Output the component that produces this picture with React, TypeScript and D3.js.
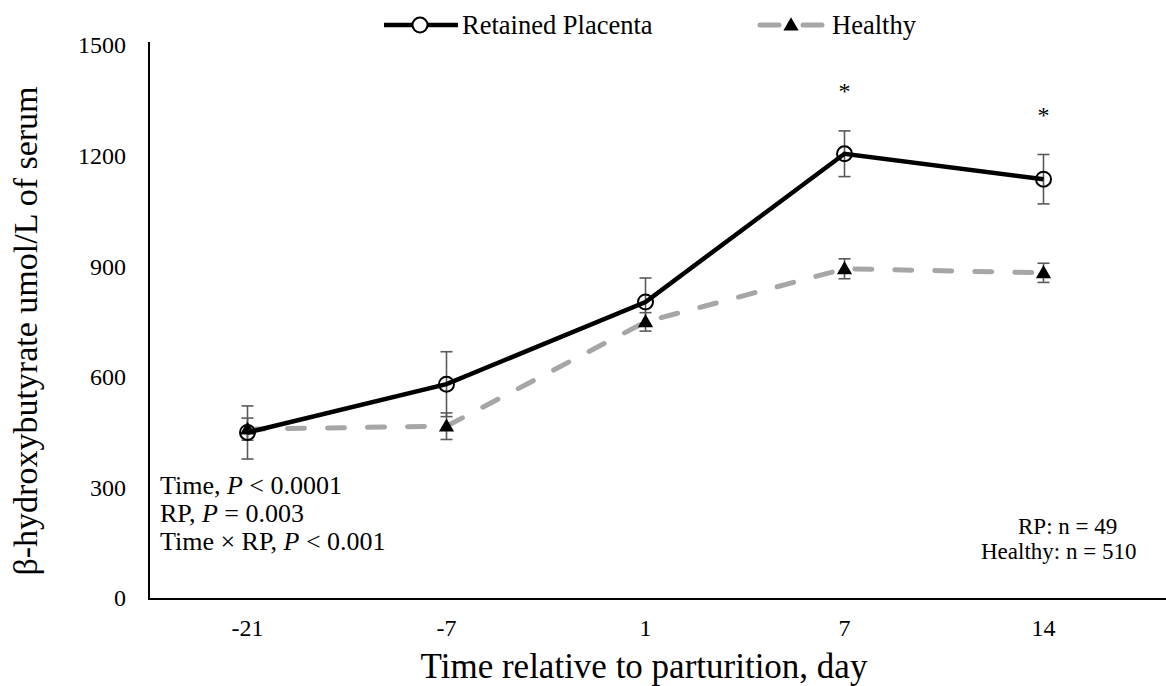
import React from "react";
import * as d3 from "d3";

// Sampling days relative to parturition
const days = ["-21", "-7", "1", "7", "14"];
// Serum BHB means and SEM, umol/L
const rpMean = [449, 580, 803, 1205, 1136];
const rpErr = [72, 88, 65, 62, 67];
const healthyMean = [458, 466, 749, 893, 882];
const healthyErr = [30, 36, 25, 27, 26];
// Days with a significant group difference
const starDays = ["7", "14"];
const starValues = [1400, 1335];
const yTicks = [0, 300, 600, 900, 1200, 1500];

const W = 1166;
const H = 686;
const FONT = "Liberation Serif, Times New Roman, DejaVu Serif, serif";

export default function App() {
  const x = d3.scaleBand<string>().domain(days).range([148, 1143]);
  const cx = (d: string) => (x(d) as number) + x.bandwidth() / 2;
  const y = d3.scaleLinear().domain([0, 1500]).range([598, 45]);

  const line = d3
    .line<number>()
    .x((_, i) => cx(days[i]))
    .y((v) => y(v));

  const tri = d3.symbol().type(d3.symbolTriangle).size(100)();

  const errBars = (means: number[], errs: number[], key: string) =>
    means.map((m, i) => {
      const px = cx(days[i]);
      const top = y(m + errs[i]);
      const bot = y(m - errs[i]);
      return (
        <g key={key + i} stroke="#5a5a5a" strokeWidth={1.6}>
          <line x1={px} x2={px} y1={top} y2={bot} />
          <line x1={px - 6} x2={px + 6} y1={top} y2={top} />
          <line x1={px - 6} x2={px + 6} y1={bot} y2={bot} />
        </g>
      );
    });

  return (
    <svg
      width={W}
      height={H}
      style={{ position: "absolute", left: 0, top: 0, background: "#fff", fontFamily: FONT }}
    >
      <rect width={W} height={H} fill="#fff" />

      {/* axes */}
      <line x1={149} x2={149} y1={42} y2={600} stroke="#000" strokeWidth={2} />
      <line x1={148} x2={1166} y1={599} y2={599} stroke="#000" strokeWidth={2} />

      {yTicks.map((t) => (
        <text key={t} x={126} y={y(t)} dy="0.35em" textAnchor="end" fontSize={24}>
          {t}
        </text>
      ))}
      {days.map((d) => (
        <text key={d} x={cx(d)} y={636} textAnchor="middle" fontSize={24}>
          {d}
        </text>
      ))}

      <text x={644} y={678} textAnchor="middle" fontSize={35}>
        Time relative to parturition, day
      </text>
      <text
        transform={`translate(37, ${331}) rotate(-90)`}
        textAnchor="middle"
        fontSize={34}
      >
        β-hydroxybutyrate umol/L of serum
      </text>

      {/* error bars */}
      {errBars(rpMean, rpErr, "rp")}
      {errBars(healthyMean, healthyErr, "h")}

      {/* series lines */}
      <path
        d={line(healthyMean) as string}
        fill="none"
        stroke="#a6a6a6"
        strokeWidth={5}
        strokeDasharray="17 23"
        strokeLinecap="round"
      />
      <path d={line(rpMean) as string} fill="none" stroke="#000" strokeWidth={4.5} />

      {rpMean.map((v, i) => (
        <circle
          key={"c" + i}
          cx={cx(days[i])}
          cy={y(v)}
          r={7.5}
          fill="none"
          stroke="#000"
          strokeWidth={2}
        />
      ))}
      {healthyMean.map((v, i) => (
        <path
          key={"t" + i}
          d={tri as string}
          transform={`translate(${cx(days[i])}, ${y(v) + 1})`}
          fill="#000"
        />
      ))}

      {starDays.map((d, i) => (
        <text key={"s" + d} x={cx(d)} y={y(starValues[i])} dy="0.7em" textAnchor="middle" fontSize={24}>
          *
        </text>
      ))}

      {/* statistics */}
      <g fontSize={26}>
        <text x={160} y={494}>
          Time, <tspan fontStyle="italic">P</tspan> {"< 0.0001"}
        </text>
        <text x={160} y={522}>
          RP, <tspan fontStyle="italic">P</tspan> = 0.003
        </text>
        <text x={160} y={550}>
          Time × RP, <tspan fontStyle="italic">P</tspan> {"< 0.001"}
        </text>
      </g>
      <g fontSize={23}>
        <text x={1018} y={534}>RP: n = 49</text>
        <text x={981} y={559}>Healthy: n = 510</text>
      </g>

      {/* legend */}
      <g>
        <line x1={384} x2={458} y1={25} y2={25} stroke="#000" strokeWidth={4.5} />
        <circle cx={420} cy={25} r={7.5} fill="#fff" stroke="#000" strokeWidth={2} />
        <text x={462} y={34} fontSize={26.5}>
          Retained Placenta
        </text>
        <line x1={760} x2={779} y1={25} y2={25} stroke="#a6a6a6" strokeWidth={5} strokeLinecap="round" />
        <line x1={803} x2={822} y1={25} y2={25} stroke="#a6a6a6" strokeWidth={5} strokeLinecap="round" />
        <path d={tri as string} transform="translate(791, 26)" fill="#000" />
        <text x={832} y={34} fontSize={26.5}>
          Healthy
        </text>
      </g>
    </svg>
  );
}
